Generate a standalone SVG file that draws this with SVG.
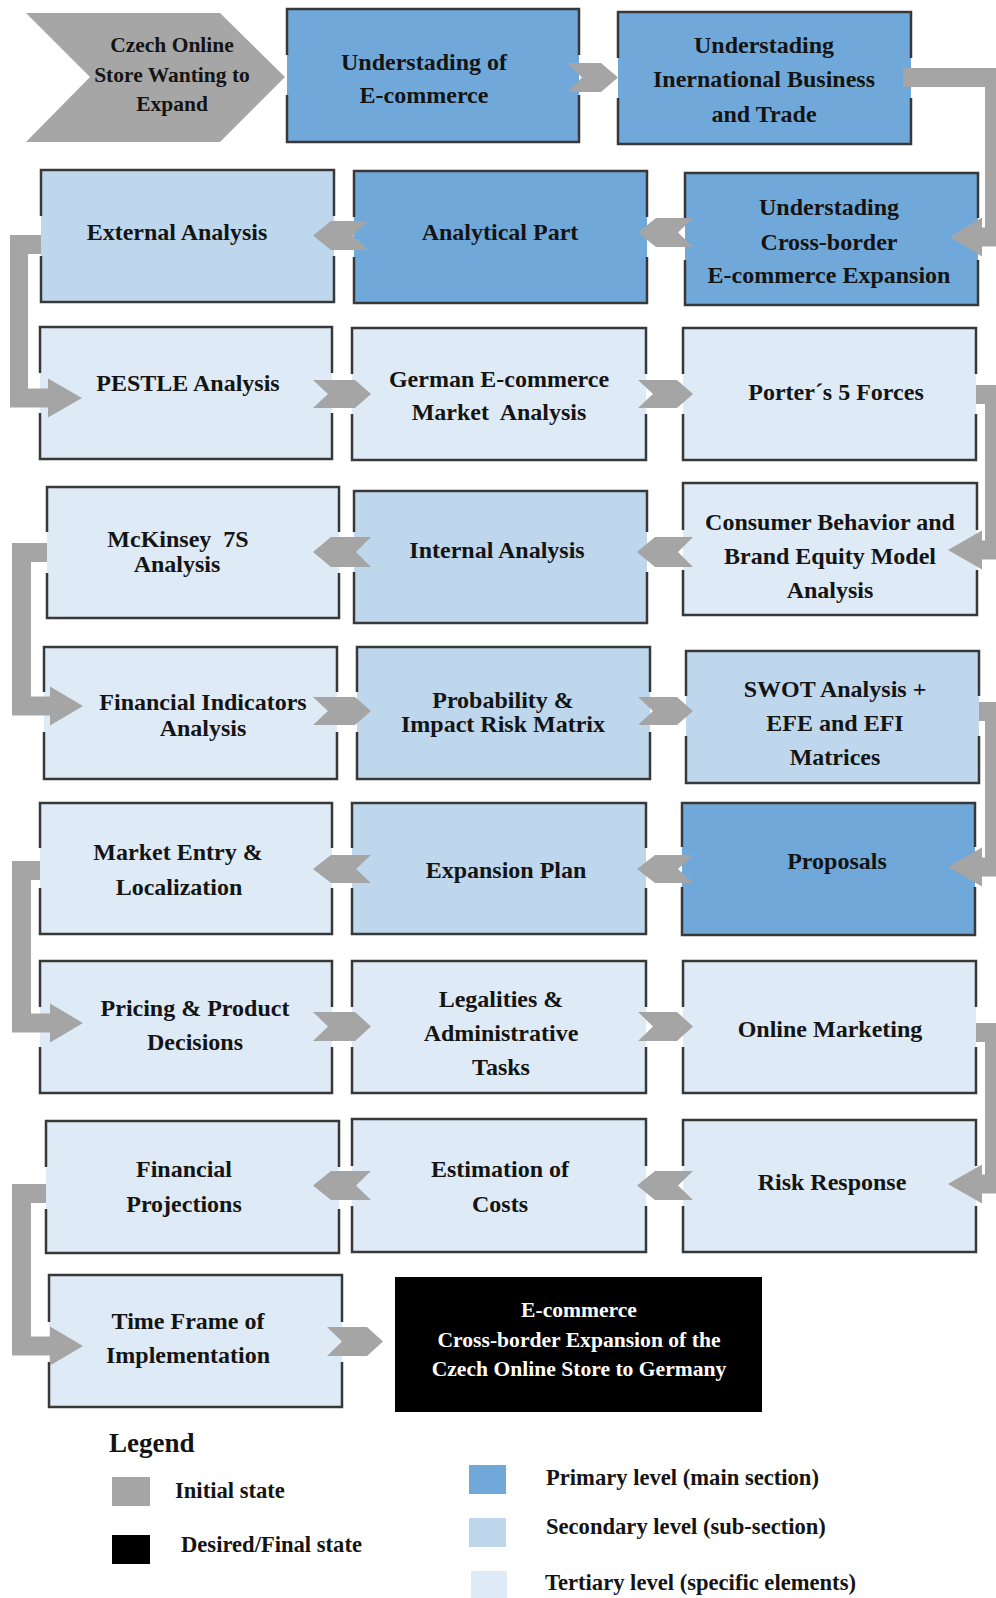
<svg xmlns="http://www.w3.org/2000/svg" width="996" height="1598" viewBox="0 0 996 1598">
<style>
.p{fill:#70a9d9}.s{fill:#bed7ec}.t{fill:#deeaf5}
.bd{fill:none;stroke:#383838;stroke-width:2.5}
.arr{fill:#a5a5a5}
.lbl{font-family:"Liberation Serif","Times New Roman",serif;font-weight:bold;font-size:24px;fill:#141414;text-anchor:middle}
.sm{font-size:21.5px}
.wt{fill:#ffffff;font-size:21.6px}
.lg{font-family:"Liberation Serif","Times New Roman",serif;font-weight:bold;font-size:22.6px;fill:#141414}
.lgt{font-size:27px}
</style>
<rect width="996" height="1598" fill="#ffffff"/>
<g id="nodes">
<g id="start">
<polygon points="26,13 220,13 285,77 220,142 26,142 90,77" fill="#a6a6a6"/>
<text class="lbl sm" x="172" y="52">Czech Online</text>
<text class="lbl sm" x="172" y="82">Store Wanting to</text>
<text class="lbl sm" x="172" y="111">Expand</text>
</g>
<g id="und-ecom">
<rect class="p" x="287" y="9" width="292" height="133"/>
<path class="bd" d="M287 55V9H579V55M579 95V142H287V95"/>
<text class="lbl" x="424" y="70">Understading of</text>
<text class="lbl" x="424" y="103">E-commerce</text>
</g>
<g id="und-ibt">
<rect class="p" x="618" y="12" width="293" height="132"/>
<path class="bd" d="M618 58V12H911V58M911 98V144H618V98"/>
<text class="lbl" x="764" y="53">Understading</text>
<text class="lbl" x="764" y="87">Inernational Business</text>
<text class="lbl" x="764" y="122">and Trade</text>
</g>
<g id="und-cb">
<rect class="p" x="685" y="173" width="293" height="132"/>
<path class="bd" d="M685 218V173H978V218M978 260V305H685V260"/>
<text class="lbl" x="829" y="215">Understading</text>
<text class="lbl" x="829" y="250">Cross-border</text>
<text class="lbl" x="829" y="283">E-commerce Expansion</text>
</g>
<g id="analytical">
<rect class="p" x="354" y="171" width="293" height="132"/>
<path class="bd" d="M354 217V171H647V217M647 257V303H354V257"/>
<text class="lbl" x="500" y="240">Analytical Part</text>
</g>
<g id="external">
<rect class="s" x="41" y="170" width="293" height="132"/>
<path class="bd" d="M41 216V170H334V216M334 256V302H41V256"/>
<text class="lbl" x="177" y="240">External Analysis</text>
</g>
<g id="pestle">
<rect class="t" x="40" y="327" width="292" height="132"/>
<path class="bd" d="M40 373V327H332V373M332 413V459H40V413"/>
<text class="lbl" x="188" y="391">PESTLE Analysis</text>
</g>
<g id="german">
<rect class="t" x="352" y="328" width="294" height="132"/>
<path class="bd" d="M352 374V328H646V374M646 414V460H352V414"/>
<text class="lbl" x="499" y="387">German E-commerce</text>
<text class="lbl" x="499" y="420">Market&#160; Analysis</text>
</g>
<g id="porter">
<rect class="t" x="683" y="328" width="293" height="132"/>
<path class="bd" d="M683 374V328H976V374M976 414V460H683V414"/>
<text class="lbl" x="836" y="400">Porter´s 5 Forces</text>
</g>
<g id="consumer">
<rect class="t" x="683" y="483" width="294" height="132"/>
<path class="bd" d="M683 530V483H977V530M977 570V615H683V570"/>
<text class="lbl" x="830" y="530">Consumer Behavior and</text>
<text class="lbl" x="830" y="564">Brand Equity Model</text>
<text class="lbl" x="830" y="598">Analysis</text>
</g>
<g id="internal">
<rect class="s" x="354" y="491" width="293" height="132"/>
<path class="bd" d="M354 532V491H647V532M647 572V623H354V572"/>
<text class="lbl" x="497" y="558">Internal Analysis</text>
</g>
<g id="mckinsey">
<rect class="t" x="47" y="487" width="292" height="131"/>
<path class="bd" d="M47 532V487H339V532M339 573V618H47V573"/>
<text class="lbl" x="178" y="547">McKinsey&#160; 7S</text>
<text class="lbl" x="177" y="572">Analysis</text>
</g>
<g id="fin-ind">
<rect class="t" x="44" y="647" width="293" height="132"/>
<path class="bd" d="M44 692V647H337V692M337 732V779H44V732"/>
<text class="lbl" x="203" y="710">Financial Indicators</text>
<text class="lbl" x="203" y="736">Analysis</text>
</g>
<g id="prob">
<rect class="s" x="357" y="647" width="293" height="132"/>
<path class="bd" d="M357 692V647H650V692M650 732V779H357V732"/>
<text class="lbl" x="503" y="708">Probability &amp;</text>
<text class="lbl" x="503" y="732">Impact Risk Matrix</text>
</g>
<g id="swot">
<rect class="s" x="686" y="651" width="293" height="132"/>
<path class="bd" d="M686 696V651H979V696M979 736V783H686V736"/>
<text class="lbl" x="835" y="697">SWOT Analysis +</text>
<text class="lbl" x="835" y="731">EFE and EFI</text>
<text class="lbl" x="835" y="765">Matrices</text>
</g>
<g id="market">
<rect class="t" x="40" y="803" width="292" height="131"/>
<path class="bd" d="M40 848V803H332V848M332 888V934H40V888"/>
<text class="lbl" x="178" y="860">Market Entry &amp;</text>
<text class="lbl" x="179" y="895">Localization</text>
</g>
<g id="expansion">
<rect class="s" x="352" y="803" width="294" height="131"/>
<path class="bd" d="M352 848V803H646V848M646 888V934H352V888"/>
<text class="lbl" x="506" y="878">Expansion Plan</text>
</g>
<g id="proposals">
<rect class="p" x="682" y="803" width="293" height="132"/>
<path class="bd" d="M682 847V803H975V847M975 887V935H682V887"/>
<text class="lbl" x="837" y="869">Proposals</text>
</g>
<g id="pricing">
<rect class="t" x="40" y="961" width="292" height="132"/>
<path class="bd" d="M40 1007V961H332V1007M332 1047V1093H40V1047"/>
<text class="lbl" x="195" y="1016">Pricing &amp; Product</text>
<text class="lbl" x="195" y="1050">Decisions</text>
</g>
<g id="legal">
<rect class="t" x="352" y="961" width="294" height="132"/>
<path class="bd" d="M352 1007V961H646V1007M646 1047V1093H352V1047"/>
<text class="lbl" x="501" y="1007">Legalities &amp;</text>
<text class="lbl" x="501" y="1041">Administrative</text>
<text class="lbl" x="501" y="1075">Tasks</text>
</g>
<g id="online">
<rect class="t" x="683" y="961" width="293" height="132"/>
<path class="bd" d="M683 1007V961H976V1007M976 1047V1093H683V1047"/>
<text class="lbl" x="830" y="1037">Online Marketing</text>
</g>
<g id="finproj">
<rect class="t" x="46" y="1121" width="293" height="132"/>
<path class="bd" d="M46 1167V1121H339V1167M339 1209V1253H46V1209"/>
<text class="lbl" x="184" y="1177">Financial</text>
<text class="lbl" x="184" y="1212">Projections</text>
</g>
<g id="estimation">
<rect class="t" x="352" y="1119" width="294" height="133"/>
<path class="bd" d="M352 1166V1119H646V1166M646 1206V1252H352V1206"/>
<text class="lbl" x="500" y="1177">Estimation of</text>
<text class="lbl" x="500" y="1212">Costs</text>
</g>
<g id="risk">
<rect class="t" x="683" y="1120" width="293" height="132"/>
<path class="bd" d="M683 1166V1120H976V1166M976 1206V1252H683V1206"/>
<text class="lbl" x="832" y="1190">Risk Response</text>
</g>
<g id="timeframe">
<rect class="t" x="49" y="1275" width="293" height="132"/>
<path class="bd" d="M49 1322V1275H342V1322M342 1362V1407H49V1362"/>
<text class="lbl" x="188" y="1329">Time Frame of</text>
<text class="lbl" x="188" y="1363">Implementation</text>
</g>
<g id="final">
<rect x="395" y="1277" width="367" height="135" fill="#000000"/>
<text class="lbl wt" x="579" y="1317">E-commerce</text>
<text class="lbl wt" x="579" y="1347">Cross-border Expansion of the</text>
<text class="lbl wt" x="579" y="1376">Czech Online Store to Germany</text>
</g>
</g>
<g id="connectors" class="arr">
<polygon points="567,63 601,63 618,77.5 601,92 567,92 582,77.5"/>
<polygon points="638,232.5 656,218 693,218 678,232.5 693,247 656,247"/>
<polygon points="313,235.5 331,221 368,221 353,235.5 368,250 331,250"/>
<polygon points="313,380 355,380 371,394 355,408 313,408 328,394"/>
<polygon points="638,380 677,380 693,394 677,408 638,408 653,394"/>
<polygon points="637,552 655,537 693,537 678,552 693,567 655,567"/>
<polygon points="313,552 331,537 371,537 356,552 371,567 331,567"/>
<polygon points="313,697 355,697 371,711 355,725 313,725 328,711"/>
<polygon points="638,697 677,697 693,711 677,725 638,725 653,711"/>
<polygon points="637,869 655,855 693,855 678,869 693,883 655,883"/>
<polygon points="313,869 331,855 371,855 356,869 371,883 331,883"/>
<polygon points="313,1012 355,1012 371,1026.5 355,1041 313,1041 328,1026.5"/>
<polygon points="638,1012 677,1012 693,1026.5 677,1041 638,1041 653,1026.5"/>
<polygon points="637,1185.5 655,1171 693,1171 678,1185.5 693,1200 655,1200"/>
<polygon points="313,1185.5 331,1171 371,1171 356,1185.5 371,1200 331,1200"/>
<polygon points="327,1327 367,1327 383,1341.5 367,1356 327,1356 342,1341.5"/>
<polygon points="903,68 1004,68 1004,246.5 982,246.5 982,256.5 950,237 982,217.5 982,227.5 985,227.5 985,87 903,87"/>
<polygon points="976,385 1004,385 1004,559.5 982,559.5 982,569.5 948,550 982,530.5 982,540.5 985,540.5 985,404 976,404"/>
<polygon points="979,702 1004,702 1004,876.5 982,876.5 982,886.5 948,867 982,847.5 982,857.5 985,857.5 985,721 979,721"/>
<polygon points="976,1023 1004,1023 1004,1193.5 982,1193.5 982,1203.5 948,1184 982,1164.5 982,1174.5 985,1174.5 985,1042 976,1042"/>
<polygon points="41,235 10,235 10,407.5 48,407.5 48,417.5 82,398 48,378.5 48,388.5 28,388.5 28,254 41,254"/>
<polygon points="47,543 12,543 12,715.5 50,715.5 50,725.5 83,706 50,686.5 50,696.5 31,696.5 31,562 47,562"/>
<polygon points="40,861 12,861 12,1032.5 50,1032.5 50,1042.5 83,1023 50,1003.5 50,1013.5 31,1013.5 31,880 40,880"/>
<polygon points="46,1184 12,1184 12,1355.5 50,1355.5 50,1365.5 83,1346 50,1326.5 50,1336.5 31,1336.5 31,1203 46,1203"/>
</g>
<g id="legend">
<text class="lg lgt" x="109" y="1452">Legend</text>
<rect x="112" y="1477" width="38" height="29" fill="#a6a6a6"/>
<text class="lg" x="175" y="1498">Initial state</text>
<rect x="112" y="1535" width="38" height="29" fill="#000000"/>
<text class="lg" x="181" y="1552">Desired/Final state</text>
<rect x="469" y="1465" width="37" height="29" class="p"/>
<text class="lg" x="546" y="1485">Primary level (main section)</text>
<rect x="469" y="1518" width="37" height="29" class="s"/>
<text class="lg" x="546" y="1534">Secondary level (sub-section)</text>
<rect x="471" y="1571" width="36" height="27" class="t"/>
<text class="lg" x="545" y="1590">Tertiary level (specific elements)</text>
</g>
</svg>
